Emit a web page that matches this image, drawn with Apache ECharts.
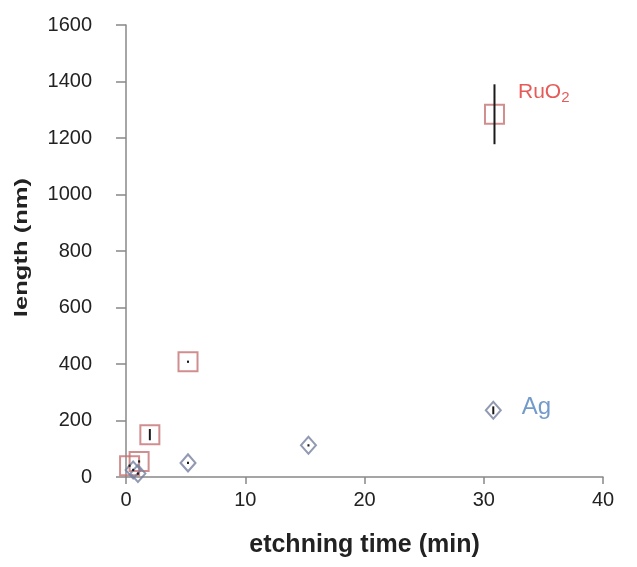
<!DOCTYPE html>
<html>
<head>
<meta charset="utf-8">
<script src="https://cdn.jsdelivr.net/npm/echarts@6/dist/echarts.min.js"></script>
<style>html,body{margin:0;padding:0;background:#fff}#c{width:637px;height:567px}</style>
</head>
<body>
<div id="c"></div>
<script>
// Data
var ruX = [0.3, 1.1, 2.0, 5.2, 30.9];
var ruY = [40, 55, 150, 408, 1284];
var ruErr = [4, 4, 20, 4, 106];
var agX = [0.6, 1.0, 5.2, 15.3, 30.8];
var agY = [25, 12, 50, 112, 236];
var agErr = [4, 4, 4, 4, 14];
var xTicks = [0, 10, 20, 30, 40];
var yTicks = [0, 200, 400, 600, 800, 1000, 1200, 1400, 1600];

function pts(xs, ys) { return xs.map(function (x, i) { return [x, ys[i]]; }); }
function errs(xs, ys, es) { return xs.map(function (x, i) { return [x, ys[i] - es[i], ys[i] + es[i]]; }); }

var errRender = function (params, api) {
  var lo = api.coord([api.value(0), api.value(1)]);
  var hi = api.coord([api.value(0), api.value(2)]);
  return {
    type: 'line',
    shape: { x1: lo[0], y1: lo[1], x2: hi[0], y2: hi[1] },
    style: { stroke: '#1a1a1a', lineWidth: 2 }
  };
};

var ruData = pts(ruX, ruY);
var agData = pts(agX, agY);
var ruLast = ruData.length - 1, agLast = agData.length - 1;

var chart = echarts.init(document.getElementById('c'));
chart.setOption({
  animation: false,
  grid: { left: 126, right: 34, top: 25, bottom: 90 },
  graphic: [{
    type: 'text', left: 13, top: 178,
    rotation: Math.PI / 2, scaleX: 1.42,
    style: {
      text: 'length (nm)', fontFamily: 'Liberation Sans', fontWeight: 'bold',
      fontSize: 18, fill: '#222'
    }
  }],
  xAxis: {
    type: 'value', min: xTicks[0], max: xTicks[xTicks.length - 1], interval: 10,
    name: 'etchning time (min)', nameLocation: 'middle', nameGap: 56,
    nameTextStyle: { fontFamily: 'Liberation Sans', fontWeight: 'bold', fontSize: 25, color: '#222' },
    axisLine: { lineStyle: { color: '#888', width: 1.5 } },
    axisTick: { show: true, length: 7, lineStyle: { color: '#888', width: 1.5 } },
    axisLabel: { fontFamily: 'Liberation Sans', fontSize: 20, color: '#222', margin: 13 },
    splitLine: { show: false }
  },
  yAxis: {
    type: 'value', min: yTicks[0], max: yTicks[yTicks.length - 1], interval: 200,
    axisLine: { show: true, lineStyle: { color: '#888', width: 1.5 } },
    axisTick: { show: true, length: 10, lineStyle: { color: '#888', width: 1.5 } },
    axisLabel: { fontFamily: 'Liberation Sans', fontSize: 20, color: '#222', margin: 34,
      formatter: function (v) { return String(v); } },
    splitLine: { show: false }
  },
  series: [
    {
      type: 'scatter', name: 'RuO2', symbol: 'rect', symbolSize: 19, z: 3,
      itemStyle: { color: 'rgba(255,255,255,0)', borderColor: '#c47272', borderWidth: 2 },
      data: ruData.map(function (d, i) {
        if (i !== ruLast) return d;
        return {
          value: d,
          label: {
            show: true, position: 'right', distance: 13, offset: [0, -22],
            formatter: '{a|RuO}{s|2}',
            rich: {
              a: { fontFamily: 'Liberation Sans', fontSize: 21, color: '#e0312d' },
              s: { fontFamily: 'Liberation Sans', fontSize: 15, color: '#e0312d', padding: [12, 0, 0, 0] }
            }
          }
        };
      })
    },
    {
      type: 'scatter', name: 'Ag', symbol: 'diamond', symbolSize: [15, 17], z: 3,
      itemStyle: { color: 'rgba(255,255,255,0)', borderColor: '#76819f', borderWidth: 2 },
      data: agData.map(function (d, i) {
        if (i !== agLast) return d;
        return {
          value: d,
          label: {
            show: true, position: 'right', distance: 20, offset: [0, -3],
            formatter: 'Ag',
            fontFamily: 'Liberation Sans', fontSize: 24, color: '#4f81bd'
          }
        };
      })
    },
    { type: 'custom', renderItem: errRender, data: errs(ruX, ruY, ruErr), z: 4, silent: true },
    { type: 'custom', renderItem: errRender, data: errs(agX, agY, agErr), z: 4, silent: true }
  ]
});
</script>
</body>
</html>
